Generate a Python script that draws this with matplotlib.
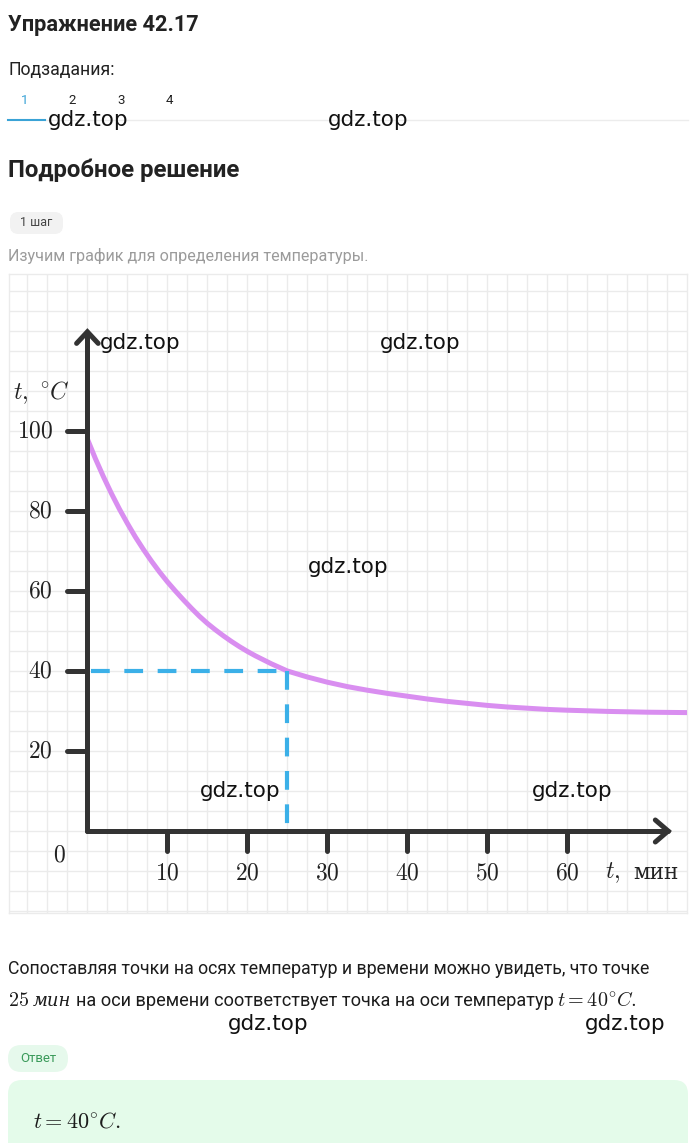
import matplotlib
matplotlib.use("Agg")
import matplotlib.pyplot as plt
from matplotlib.patches import FancyBboxPatch

plt.rcParams['mathtext.fontset'] = 'cm'

# ---- data ----
time_min = [0, 1, 2, 3, 4, 5, 6, 7, 8, 9, 10, 11, 12, 13, 14, 15, 16, 17, 18,
            19, 20, 21, 22, 23, 24, 25, 27.5, 30, 32.5, 35, 37.5, 40, 42.5,
            45, 47.5, 50, 52.5, 55, 57.5, 60, 65, 70, 75]
temp_c = [98, 93.1, 88.6, 84.4, 80.5, 76.9, 73.5, 70.4, 67.5, 64.8, 62.3,
          60.0, 57.8, 55.7, 53.7, 51.9, 50.3, 48.8, 47.4, 46.1, 44.9, 43.8,
          42.8, 41.8, 40.9, 40.0, 38.5, 37.2, 36.1, 35.2, 34.4, 33.7, 33.0,
          32.4, 31.9, 31.4, 31.0, 30.7, 30.4, 30.2, 29.9, 29.7, 29.6]
x_ticks = [10, 20, 30, 40, 50, 60]
y_ticks = [20, 40, 60, 80, 100]
answer_time = 25
answer_temp = 40

W, H = 700, 1143
fig = plt.figure(figsize=(W / 100, H / 100), dpi=100)
fig.patch.set_facecolor('white')

def fx(x):
    return x / W

def fy(y):
    return 1 - y / H

UI = ['Roboto', 'DejaVu Sans']

def ftext(x, y, s, size, color='#1c1c1c', weight='normal', ha='left', va='center', family=UI, **kw):
    fig.text(fx(x), fy(y), s, fontsize=size, color=color, fontweight=weight,
             ha=ha, va=va, family=family, **kw)

# ---- page header ----
ftext(8, 25, 'Упражнение 42.17', 15.7, weight='bold', color='#222222')
ftext(8, 70, 'Подзадания:', 12.8, color='#222222')
for i, (lab, xx) in enumerate(zip(['1', '2', '3', '4'], [25, 72, 121, 169])):
    ftext(xx, 100, lab, 9.5, color='#3aa3d6' if i == 0 else '#222222', ha='center')
fig.add_artist(plt.Line2D([fx(45), fx(688)], [fy(120), fy(120)], color='#ececec', lw=1))
fig.add_artist(plt.Line2D([fx(8), fx(45)], [fy(120), fy(120)], color='#3aa3d6', lw=1.5))
ftext(8, 170, 'Подробное решение', 17.3, weight='bold', color='#222222')

# step pill
fig.add_artist(FancyBboxPatch((fx(10), fy(234)), fx(53), 22 / H,
                              boxstyle='round,pad=0,rounding_size=0.012',
                              transform=fig.transFigure, fc='#f2f2f2', ec='none',
                              mutation_aspect=W / H))
ftext(20, 222, '1 шаг', 9, color='#444444')
ftext(8, 256, 'Изучим график для определения температуры.', 11.65, color='#9b9b9b')

# ---- chart ----
x0, x1 = -9.8, 74.96
y0, y1 = -20.5, 139.25
ax = fig.add_axes([fx(9), fy(913), (687 - 9) / W, (913 - 274) / H])
ax.set_xlim(x0, x1)
ax.set_ylim(y0, y1)
for s in ax.spines.values():
    s.set_color('#ebebeb')
    s.set_linewidth(1)
vx = []
v = -7.5
while v < x1:
    vx.append(v)
    v += 2.5
hy = []
v = -20
while v < y1:
    hy.append(v)
    v += 5
ax.set_xticks(vx)
ax.set_yticks(hy)
ax.tick_params(length=0, labelbottom=False, labelleft=False)
ax.grid(True, color='#ebebeb', lw=1)
ax.set_axisbelow(True)

axis_c = '#333333'
# curve
ax.plot(time_min, temp_c, color='#d98ef0', lw=3.6, solid_capstyle='butt',
        solid_joinstyle='round', zorder=3)
# dashed guides
ax.plot([0.5, answer_time], [answer_temp, answer_temp], color='#3bb0e8', lw=3.0,
        dashes=(4.5, 3.5), zorder=4)
ax.plot([answer_time, answer_time], [answer_temp, 0], color='#3bb0e8', lw=3.0,
        dashes=(4.5, 3.5), zorder=4)
# axes
ax.plot([0, 0], [0, 124.8], color=axis_c, lw=3.6, solid_capstyle='round', zorder=5)
ax.plot([0, 72.6], [0, 0], color=axis_c, lw=3.6, solid_capstyle='round', zorder=5)
ax.plot([-1.35, 0, 1.35], [121.9, 124.8, 121.9], color=axis_c, lw=3.6,
        solid_capstyle='round', solid_joinstyle='miter', zorder=5)
ax.plot([71.0, 72.6, 71.0], [2.75, 0, -2.75], color=axis_c, lw=3.6,
        solid_capstyle='round', solid_joinstyle='miter', zorder=5)
for t in y_ticks:
    ax.plot([-2.6, 0], [t, t], color=axis_c, lw=3.6, solid_capstyle='round', zorder=5)
    ax.text(-4.3, t, '$%d$' % t, fontsize=17, ha='right', va='center', color='#222222')
for t in x_ticks:
    ax.plot([t, t], [0, -5], color=axis_c, lw=3.6, solid_capstyle='round', zorder=5)
    ax.text(t, -10.5, '$%d$' % t, fontsize=17, ha='center', va='center', color='#222222')
ax.text(-3.5, -6, '$0$', fontsize=17, ha='center', va='center', color='#222222')
ax.text((13 - 87.3) / 8, (831 - 393) / 4, r'$t,\ ^{\circ}C$', fontsize=17,
        ha='left', va='center', color='#222222')
ax.text((605 - 87.3) / 8, -10.5, r'$t,$', fontsize=17, ha='left', va='center', color='#222222')
ax.text((633 - 87.3) / 8, -10.5, 'мин', fontsize=15.5, ha='left', va='center',
        color='#222222', family=['DejaVu Serif'])

# ---- solution text ----
ftext(8, 969, 'Сопоставляя точки на осях температур и времени можно увидеть, что точке', 12.8)
ftext(8, 1001, '$25$', 14.5, family=['DejaVu Sans'])
ftext(33, 1001, 'мин', 13, family=['DejaVu Serif'], style='italic')
ftext(76, 1001, 'на оси времени соответствует точка на оси температур', 13.05)
ftext(557, 1001, r'$t = 40^{\circ}C.$', 14.5, family=['DejaVu Sans'])

# answer pill
fig.add_artist(FancyBboxPatch((fx(8), fy(1072)), fx(60), 27 / H,
                              boxstyle='round,pad=0,rounding_size=0.019',
                              transform=fig.transFigure, fc='#e6f9ec', ec='none',
                              mutation_aspect=W / H))
ftext(20, 1059, 'Ответ', 9.5, color='#3a9a5a')
fig.add_artist(FancyBboxPatch((fx(8), fy(1160)), fx(680), 80 / H,
                              boxstyle='round,pad=0,rounding_size=0.02',
                              transform=fig.transFigure, fc='#e4fbea', ec='none',
                              mutation_aspect=W / H))
ftext(33, 1121, r'$t = 40^{\circ}C.$', 16, family=['DejaVu Sans'])

# ---- watermarks ----
for (wx, wy) in [(48, 120), (328, 120), (100, 343), (380, 343), (308, 567),
                 (200, 791), (532, 791), (228, 1024), (585, 1024)]:
    ftext(wx, wy, 'gdz.top', 15.5, color='#111111', family=['DejaVu Sans'], zorder=10)

fig.savefig('out.png', dpi=100)
